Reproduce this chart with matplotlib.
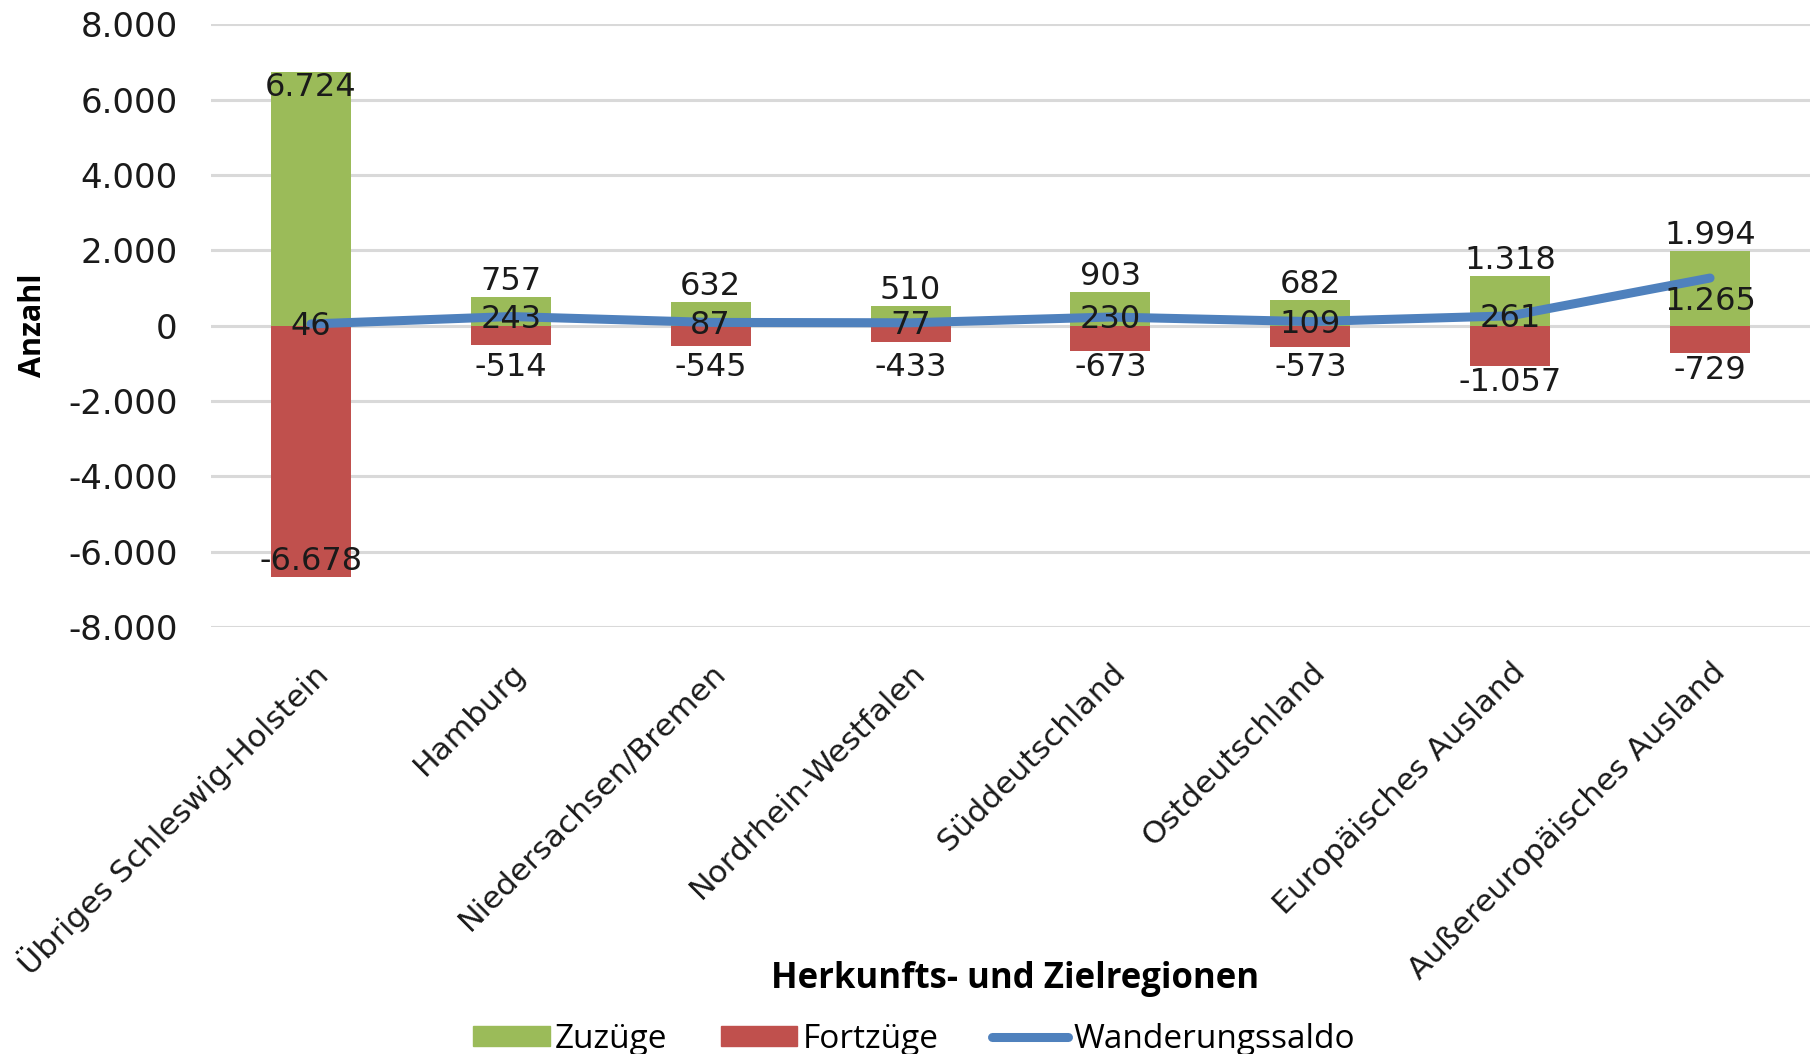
import matplotlib
matplotlib.use("Agg")
import matplotlib.pyplot as plt
from matplotlib.patches import Patch
from matplotlib.lines import Line2D
import numpy as np

plt.rcParams['font.family'] = ['DejaVu Sans']

categories = ["Übriges Schleswig-Holstein", "Hamburg", "Niedersachsen/Bremen",
              "Nordrhein-Westfalen", "Süddeutschland", "Ostdeutschland",
              "Europäisches Ausland", "Außereuropäisches Ausland"]
zuzuege = [6724, 757, 632, 510, 903, 682, 1318, 1994]
fortzuege = [-6678, -514, -545, -433, -673, -573, -1057, -729]
saldo = [46, 243, 87, 77, 230, 109, 261, 1265]
yticks = [-8000, -6000, -4000, -2000, 0, 2000, 4000, 6000, 8000]

GREEN = "#9BBB59"
RED = "#C0504D"
BLUE = "#4F81BD"
TXT = "#1a1a1a"

def de(v):
    s = f"{abs(v):,}".replace(",", ".")
    return ("-" if v < 0 else "") + s

fig = plt.figure(figsize=(18.10, 10.54), dpi=100)
ax = fig.add_axes([0.1166, 0.405, 0.8834, 0.572])

x = np.arange(len(categories))
w = 0.40
ax.bar(x, zuzuege, width=w, color=GREEN, zorder=2)
ax.bar(x, fortzuege, width=w, color=RED, zorder=2)
ax.plot(x, saldo, color=BLUE, lw=6.5, solid_capstyle='round', zorder=3)

ax.set_xlim(-0.5, 7.5)
ax.set_ylim(-8000, 8000)
ax.set_yticks(yticks)
ax.set_yticklabels([de(v) for v in yticks], fontsize=24.5, color=TXT)
ax.tick_params(axis='y', length=0, pad=24)
ax.tick_params(axis='x', length=0, pad=22)
ax.grid(axis='y', color="#D9D9D9", lw=2.2, zorder=0)
ax.set_axisbelow(True)
for s in ax.spines.values():
    s.set_visible(False)

ax.set_xticks(x)
ax.set_xticklabels(categories, rotation=45, ha='right', va='top',
                   rotation_mode='anchor', fontsize=22.5, color=TXT)

ax.set_ylabel("Anzahl", fontsize=22, fontweight='bold', family='Open Sans')
ax.yaxis.set_label_coords(-0.102, 0.5)
fig.text(0.561, 0.071, "Herkunfts- und Zielregionen", fontsize=25,
         fontweight='bold', family='Open Sans', ha='center', va='center')

lab_kw = dict(fontsize=23, color=TXT, ha='center', zorder=5)
for i in range(len(categories)):
    z = zuzuege[i]
    if z > 5000:
        ax.annotate(de(z), (x[i], z), xytext=(0, 0), textcoords='offset points',
                    va='top', **lab_kw)
    else:
        ax.annotate(de(z), (x[i], z), xytext=(0, 0), textcoords='offset points',
                    va='bottom', **lab_kw)
    f = fortzuege[i]
    if f < -5000:
        ax.annotate(de(f), (x[i], f), xytext=(0, 0), textcoords='offset points',
                    va='bottom', **lab_kw)
    else:
        ax.annotate(de(f), (x[i], min(f, -650)), xytext=(0, -1),
                    textcoords='offset points', va='top', **lab_kw)
    s = saldo[i]
    if s > 1000:
        ax.annotate(de(s), (x[i], s), xytext=(0, -6), textcoords='offset points',
                    va='top', **lab_kw)
    else:
        ax.annotate(de(s), (x[i], s), xytext=(0, -2), textcoords='offset points',
                    va='center', **lab_kw)

handles = [Patch(color=GREEN, label="Zuzüge"),
           Patch(color=RED, label="Fortzüge"),
           Line2D([0], [0], color=BLUE, lw=6.5, solid_capstyle='round', label="Wanderungssaldo")]
fig.legend(handles=handles, loc='center', bbox_to_anchor=(0.505, 0.014), ncol=3,
           frameon=False, prop={'family': 'Open Sans', 'size': 24},
           handlelength=2.3, handleheight=0.55,
           handletextpad=0.15, columnspacing=1.6)

fig.savefig("out.png", dpi=100)
